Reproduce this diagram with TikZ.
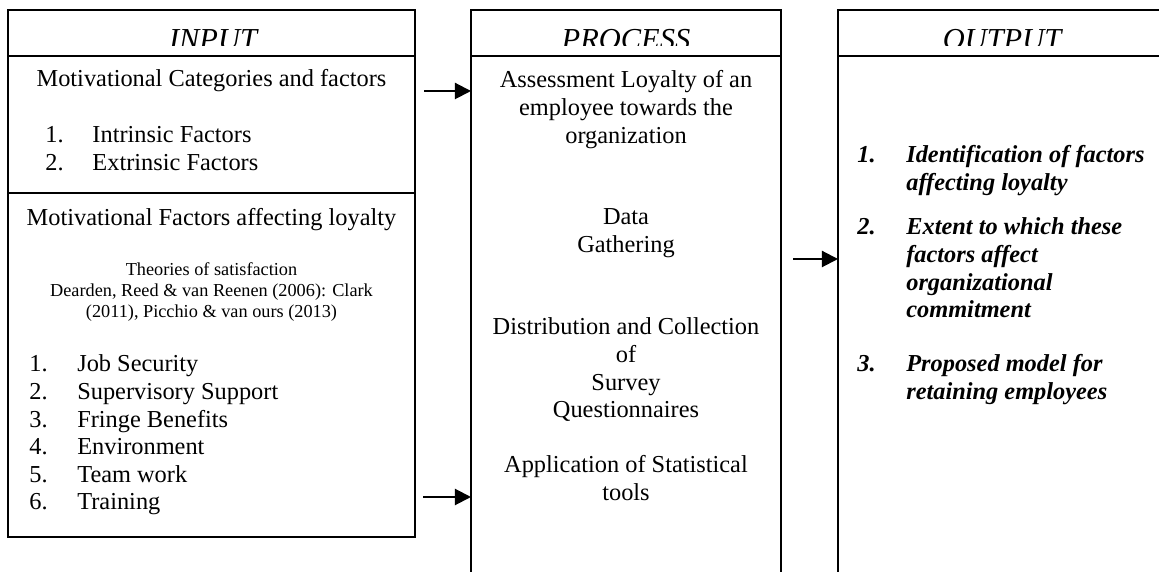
\documentclass[tikz,border=0pt]{standalone}
\usepackage{fontspec}
\setmainfont{Liberation Serif}
\usetikzlibrary{arrows.meta,fit}

\tikzset{
    frame/.style={draw, line width=0.9pt, inner sep=0pt, outer sep=0pt},
    txt/.style={inner sep=0pt, anchor=base, font=\fontsize{12}{13.55}\selectfont},
    smalltxt/.style={txt, font=\fontsize{9}{10.3}\selectfont},
    listtxt/.style={txt, anchor=base west},
    outtxt/.style={txt, anchor=base west, font=\fontsize{12}{13.55}\selectfont\bfseries\itshape},
    headtxt/.style={inner sep=0pt, anchor=base, font=\fontsize{15}{17}\selectfont\itshape},
    flow/.style={-{Triangle[length=8pt,width=8pt]}, line width=1pt}
}
\newcommand{\linestack}[1]{\begin{tabular}[t]{@{}c@{}}#1\end{tabular}}
\newcommand{\itemrows}[2][23.4pt]{\begin{tabular}[t]{@{}p{#1}@{}l@{}}#2\end{tabular}}

\begin{document}
\begin{tikzpicture}[x=0.4926pt, y=-0.4926pt]
                \useasboundingbox (0,0) rectangle (1159,572);
                \clip (0,0) rectangle (1159,572);

                \node[frame, fit={(8,10) (415,56)}] (inhead) {};
                \node[frame, fit={(8,56) (415,193)}] (cat) {};
                \node[frame, fit={(8,193) (415,537)}] (fac) {};
                \node[frame, fit={(471,10) (781,56)}] (prochead) {};
                \node[frame, fit={(471,56) (781,620)}] (proc) {};
                \node[frame, fit={(838,10) (1166,56)}] (outhead) {};
                \node[frame, fit={(838,56) (1166,620)}] (out) {};

                \begin{scope}
                \clip (0,10) rectangle (1159,46);
                \node[headtxt] (inlabel) at (213,49.5) {INPUT};
                \node[headtxt] (proclabel) at (626,49.5) {PROCESS};
                \node[headtxt] (outlabel) at (1002,49.5) {OUTPUT};
                \end{scope}

                \node[txt] (cattitle) at (211.5,87) {Motivational Categories and factors};
                \node[listtxt] (catlist) at (45,143) {\itemrows[23.2pt]{1. & Intrinsic Factors\\ 2. & Extrinsic Factors}};
                \node[txt] (factitle) at (211.5,226) {Motivational Factors affecting loyalty};
                \node[smalltxt] (theory) at (211.5,276) {\linestack{Theories of satisfaction\\ Dearden, Reed \& van Reenen (2006): Clark\\ (2011), Picchio \& van ours (2013)}};
                \node[listtxt] (faclist) at (29,372) {\itemrows[23.6pt]{1. & Job Security\\ 2. & Supervisory Support\\ 3. & Fringe Benefits\\ 4. & Environment\\ 5. & Team work\\ 6. & Training}};

                \node[txt] (assess) at (626,88) {\linestack{Assessment Loyalty of an\\ employee towards the\\ organization}};
                \node[txt] (gather) at (626,225) {\linestack{Data\\ Gathering}};
                \node[txt] (survey) at (626,335) {\linestack{Distribution and Collection\\ of\\ Survey\\ Questionnaires}};
                \node[txt] (stats) at (626,473) {\linestack{Application of Statistical\\ tools}};

                \node[outtxt] (ident) at (857,163) {\itemrows[24.1pt]{1. & Identification of factors\\ & affecting loyalty}};
                \node[outtxt] (extent) at (857,235) {\itemrows[24.1pt]{2. & Extent to which these\\ & factors affect\\ & organizational\\ & commitment}};
                \node[outtxt] (model) at (857,372) {\itemrows[24.1pt]{3. & Proposed model for\\ & retaining employees}};

                \coordinate (catout) at (424,91);
                \coordinate (facout) at (423,497);
                \coordinate (procout) at (793,259);
                \draw[flow] (catout) to (catout -| proc.west); \draw[flow] (facout) to (facout -| proc.west);
                \draw[flow] (procout) to (procout -| out.west);
            \end{tikzpicture}
\end{document}
